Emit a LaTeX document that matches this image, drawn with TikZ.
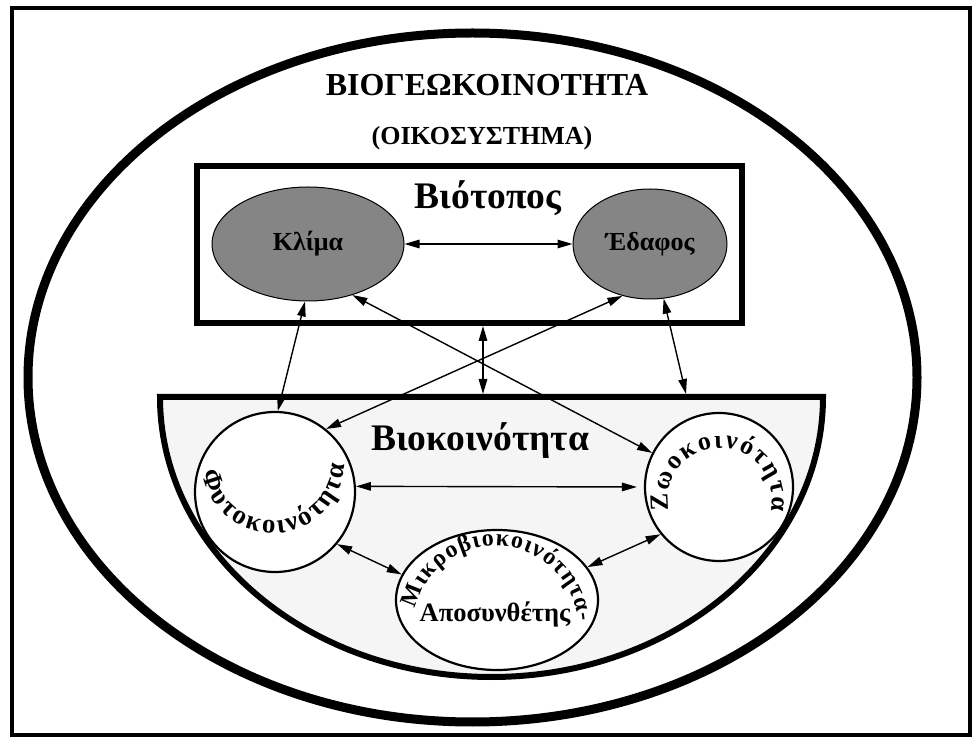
\documentclass[tikz,border=0pt]{standalone}
\usepackage{fontspec}
\setmainfont{Liberation Serif}
\usetikzlibrary{shapes.geometric, arrows.meta, decorations.text}
\begin{document}
\begin{tikzpicture}[x=1pt,y=1pt,
  bub/.style={draw, line width=2.2pt, fill=white, inner sep=0pt},
  biot/.style={ellipse, draw, line width=1pt, fill=black!48, inner sep=0pt, font=\bfseries\fontsize{26}{28}\selectfont},
  rel/.style={{Triangle[length=15pt,width=8.5pt]}-{Triangle[length=15pt,width=8.5pt]}, line width=1.4pt},
  bigtitle/.style={font=\bfseries\fontsize{32}{34}\selectfont},
  subtitle/.style={font=\bfseries\fontsize{26}{28}\selectfont},
  grouplabel/.style={font=\bfseries\fontsize{37.5}{40}\selectfont}
]
\useasboundingbox (0,0) rectangle (978,737);
% frame
\draw[line width=3.5pt] (12,2) rectangle (970,729);
% ecosystem ellipse
\draw[line width=9pt, fill=white] (472.5,359.5) ellipse [x radius=444.5, y radius=344.5];
% titles
\node[bigtitle] (title) at (487,652) {ΒΙΟΓΕΩΚΟΙΝΟΤΗΤΑ};
\node[subtitle] (subtitle) at (482,599) {(ΟΙΚΟΣΥΣΤΗΜΑ)};
% biotope box
\draw[line width=6pt, fill=white] (197,414) rectangle (742,571);
\node[grouplabel] (biotope) at (488,539) {Βιότοπος};
\node[biot, minimum width=192pt, minimum height=114pt] (klima) at (308,493) {Κλίμα};
\node[biot, minimum width=154pt, minimum height=110pt] (edafos) at (650,493) {Έδαφος};
% biocommunity half ellipse
\draw[line width=6pt, fill=black!4] (160,340) -- (823,340)
  arc[start angle=0, end angle=-180, x radius=331.5, y radius=280] -- cycle;
\node[grouplabel] (biocomm) at (480,296) {Βιοκοινότητα};
\node[bub, circle, minimum size=160pt] (phyto) at (275,245) {};
\node[bub, circle, minimum size=148pt] (zoo) at (719,250) {};
\node[bub, ellipse, minimum width=202pt, minimum height=140pt] (micro) at (497,137) {};
% curved texts
\path[decorate, decoration={text along path, text align={fit to path},
  text={|\bfseries\fontsize{27}{27}\selectfont|Φυτοκοινότητα}}]
  (201.9,264.7) arc[start angle=189, end angle=357, radius=72];
\path[decorate, decoration={text along path, text align={fit to path},
  text={|\bfseries\fontsize{26}{26}\selectfont|Ζωοκοινότητα}}]
  (669.2,226.2) arc[start angle=192, end angle=-12, radius=52];
\path[decorate, decoration={text along path, text align={fit to path},
  text={|\bfseries\fontsize{24}{24}\selectfont|Μικροβιοκοινότητα-}}]
  (415.1,128.1) arc[start angle=166, end angle=5, radius=83];
\node[font=\bfseries\fontsize{26.5}{27}\selectfont] (apo) at (495,123) {Αποσυνθέτης};
% free ends
\coordinate (btS) at (483,411);
\coordinate (bcN) at (483,343);
\coordinate (bcE) at (686,343);
% connectors
\draw[rel] (klima) -- (edafos);
\draw[rel] (klima.267) -- (phyto.88);
\draw[rel] (klima.311) -- (zoo.153);
\draw[rel] (edafos.242) -- (phyto.51);
\draw[rel] (edafos.284) -- (bcE);
\draw[rel] (btS) -- (bcN);
\draw[rel, shorten >=7pt] (phyto.4) -- (zoo.west);
\draw[rel] (phyto.320) -- (micro.165);
\draw[rel] (zoo.219) -- (micro.20);
\end{tikzpicture}
\end{document}
